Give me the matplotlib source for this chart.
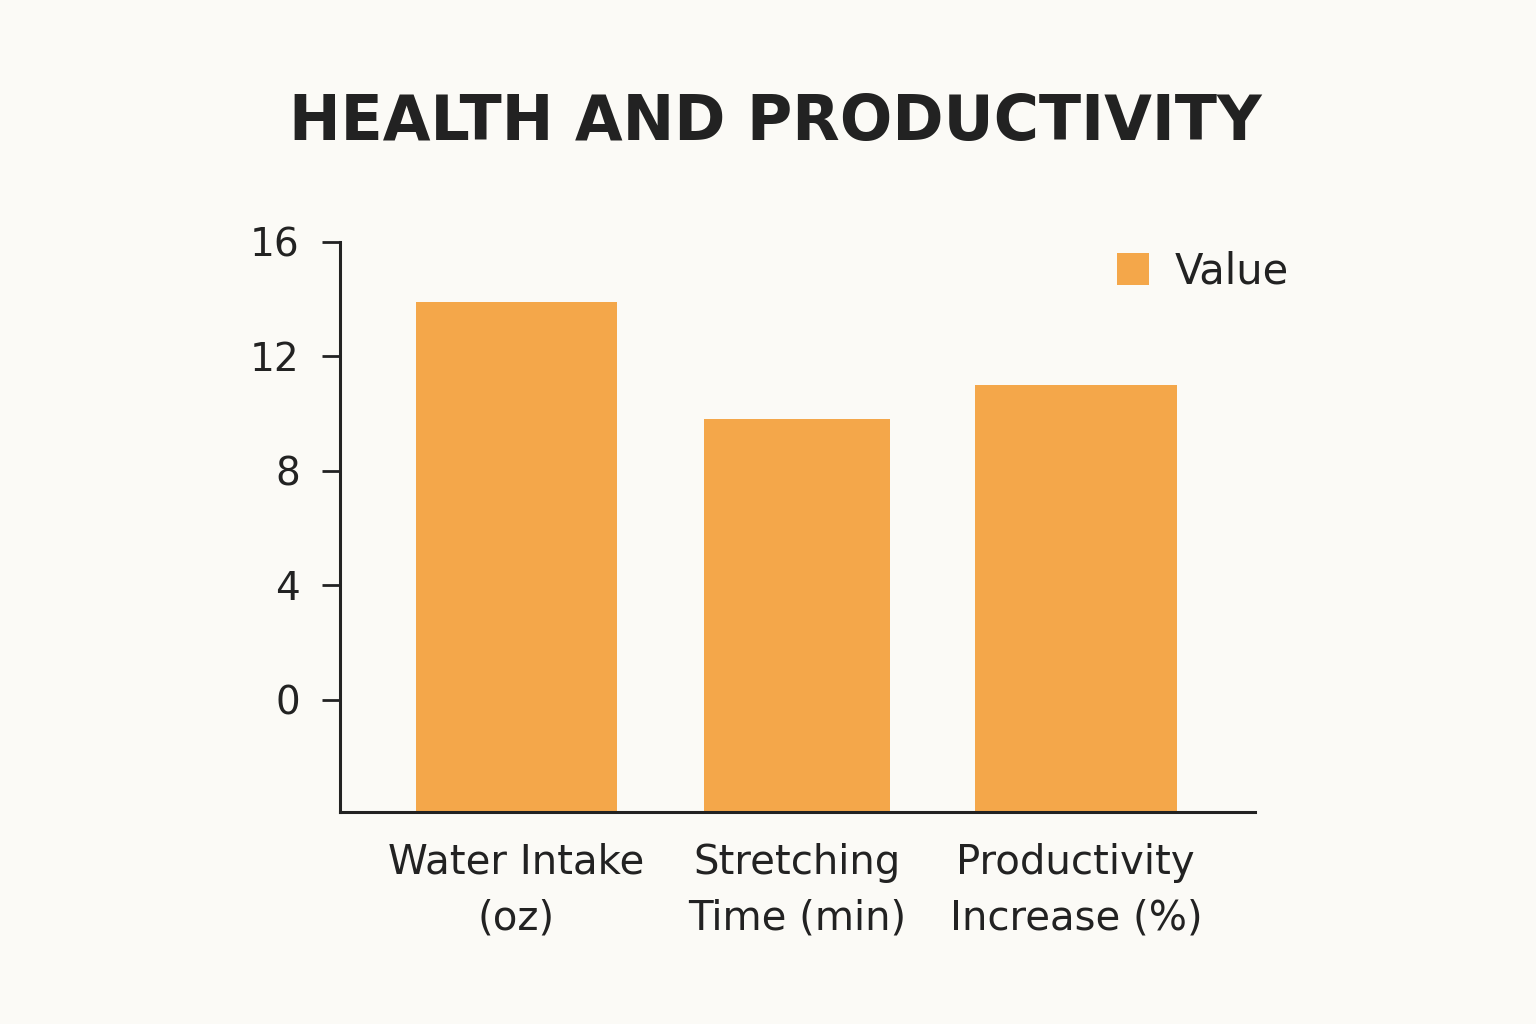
import matplotlib
matplotlib.use("Agg")
import matplotlib.pyplot as plt

categories = ["Water Intake\n(oz)", "Stretching\nTime (min)", "Productivity\nIncrease (%)"]
values = [13.9, 9.8, 11.0]
yticks = [0, 4, 8, 12, 16]
title = "HEALTH AND PRODUCTIVITY"
series_name = "Value"

bg = "#FBFAF6"
bar_color = "#F4A74A"
ink = "#222222"

plt.rcParams['font.family'] = ['DejaVu Sans']
fig = plt.figure(figsize=(15.36, 10.24), dpi=100, facecolor=bg)
ax = fig.add_axes([0.2214, 0.207, 0.5956, 0.5567])
ax.set_facecolor(bg)

ymin = -3.93
x = [0, 1.003, 2.0]
widths = [0.72, 0.665, 0.72]
ax.bar(x, [v - ymin for v in values], bottom=ymin, width=widths,
       color=bar_color, label=series_name, zorder=2)

ax.set_ylim(ymin, 16)
ax.set_xlim(-0.63, 2.64)
ax.set_yticks(yticks)
ax.set_yticklabels([str(t) for t in yticks], fontsize=28, color=ink)
ax.set_xticks(x)
ax.set_xticklabels(categories, fontsize=29, color=ink, linespacing=1.52)
ax.tick_params(axis='x', length=0, pad=22)
ax.tick_params(axis='y', length=13, width=2, color=ink, pad=16)
for s in ["top", "right"]:
    ax.spines[s].set_visible(False)
for s in ["left", "bottom"]:
    ax.spines[s].set_linewidth(2.2)
    ax.spines[s].set_color(ink)

leg = ax.legend(loc="upper left", bbox_to_anchor=(0.849, 0.985), frameon=False,
                borderpad=0, borderaxespad=0,
                fontsize=30, handlelength=0.78, handleheight=0.78, handletextpad=0.6,
                labelcolor=ink)

fig.text(0.505, 0.88, title, ha="center", va="center", fontsize=44.5,
         fontweight="bold", color=ink)

fig.savefig("out.png", dpi=100, facecolor=bg)
